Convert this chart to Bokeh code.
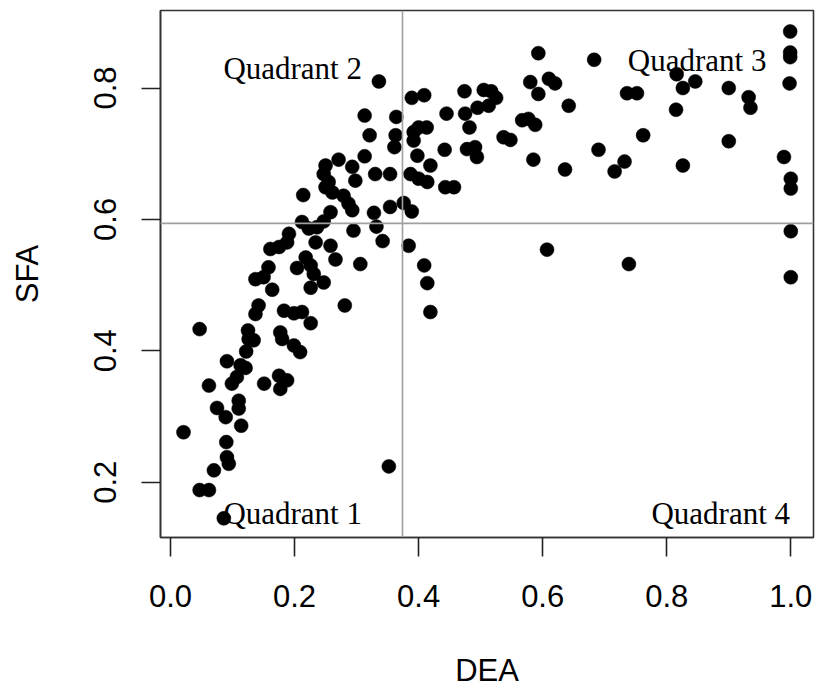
from bokeh.plotting import figure
from bokeh.models import Range1d, FixedTicker, PrintfTickFormatter, Span
from bokeh.core.properties import value
from bokeh.embed import file_html
from bokeh.resources import INLINE

# ---- data ----
dea = [0.137, 0.164, 0.281, 0.047, 0.142, 0.137, 0.183, 0.199, 0.212, 0.226,
       0.125, 0.126, 0.134, 0.177, 0.180, 0.199, 0.209, 0.122, 0.091, 0.113,
       0.121, 0.107, 0.099, 0.062, 0.151, 0.175, 0.188, 0.177, 0.110, 0.110,
       0.075, 0.089, 0.114, 0.021, 0.090, 0.091, 0.094, 0.070, 0.047, 0.062,
       0.086,
       0.336, 0.313, 0.321, 0.313, 0.271, 0.250, 0.247, 0.255, 0.293, 0.298,
       0.250, 0.261, 0.279, 0.287, 0.293, 0.214, 0.258, 0.212, 0.223, 0.236,
       0.247, 0.295, 0.191, 0.188, 0.161, 0.175, 0.234, 0.258, 0.218, 0.226,
       0.266, 0.306, 0.204, 0.158, 0.150, 0.231, 0.247, 0.226,
       0.593, 0.389, 0.409, 0.474, 0.505, 0.517, 0.525, 0.513, 0.495, 0.475,
       0.482, 0.580, 0.593, 0.610, 0.620, 0.642, 0.445, 0.364, 0.567, 0.577,
       0.588, 0.363, 0.361, 0.392, 0.400, 0.413, 0.392, 0.537, 0.548, 0.442,
       0.478, 0.491, 0.494, 0.398, 0.585, 0.636, 0.419, 0.330, 0.354, 0.387,
       0.400, 0.414, 0.443, 0.457, 0.354, 0.376, 0.389, 0.328, 0.332, 0.342,
       0.384, 0.409, 0.414, 0.607, 0.419, 0.352,
       0.683, 0.999, 0.999, 0.999, 0.998, 0.816, 0.826, 0.846, 0.736, 0.752,
       0.900, 0.932, 0.935, 0.815, 0.762, 0.900, 0.690, 0.732, 0.716, 0.826,
       0.989, 1.000, 1.000, 1.000, 0.739, 1.000]
sfa = [0.509, 0.493, 0.469, 0.433, 0.469, 0.456, 0.461, 0.457, 0.459, 0.442,
       0.431, 0.418, 0.416, 0.428, 0.418, 0.408, 0.398, 0.399, 0.384, 0.378,
       0.374, 0.360, 0.350, 0.347, 0.350, 0.362, 0.355, 0.342, 0.324, 0.312,
       0.313, 0.299, 0.286, 0.276, 0.261, 0.238, 0.228, 0.218, 0.188, 0.188,
       0.145,
       0.810, 0.758, 0.728, 0.696, 0.691, 0.682, 0.669, 0.657, 0.680, 0.659,
       0.649, 0.641, 0.636, 0.624, 0.614, 0.637, 0.611, 0.596, 0.586, 0.588,
       0.597, 0.583, 0.578, 0.565, 0.555, 0.558, 0.565, 0.560, 0.542, 0.530,
       0.539, 0.532, 0.526, 0.527, 0.512, 0.517, 0.504, 0.496,
       0.853, 0.785, 0.789, 0.795, 0.797, 0.795, 0.785, 0.773, 0.770, 0.761,
       0.740, 0.809, 0.791, 0.814, 0.807, 0.773, 0.761, 0.756, 0.751, 0.753,
       0.744, 0.728, 0.710, 0.733, 0.740, 0.740, 0.720, 0.725, 0.721, 0.706,
       0.707, 0.710, 0.695, 0.697, 0.691, 0.676, 0.682, 0.669, 0.669, 0.669,
       0.662, 0.657, 0.649, 0.649, 0.619, 0.625, 0.612, 0.610, 0.589, 0.567,
       0.560, 0.530, 0.503, 0.554, 0.459, 0.224,
       0.843, 0.886, 0.854, 0.847, 0.807, 0.821, 0.800, 0.810, 0.792, 0.792,
       0.800, 0.786, 0.770, 0.767, 0.728, 0.719, 0.706, 0.688, 0.673, 0.682,
       0.695, 0.662, 0.647, 0.582, 0.532, 0.512]

dea_cut = 0.374   # vertical reference line
sfa_cut = 0.594   # horizontal reference line

x_ticks = [0.0, 0.2, 0.4, 0.6, 0.8, 1.0]
y_ticks = [0.2, 0.4, 0.6, 0.8]

quad_labels = ["Quadrant 1", "Quadrant 2", "Quadrant 3", "Quadrant 4"]
quad_x = [0.197, 0.197, 0.849, 0.887]
quad_y = [0.152, 0.829, 0.842, 0.152]

# ---- figure ----
p = figure(width=816, height=690, output_backend="svg", toolbar_location=None,
           x_range=Range1d(-0.0161, 1.0366), y_range=Range1d(0.1158, 0.918),
           min_border_left=160, min_border_right=3, min_border_top=10,
           min_border_bottom=153)
p.grid.visible = False
p.outline_line_color = "#333333"
p.outline_line_width = 1.6
p.background_fill_color = "white"
p.border_fill_color = "white"

for ax in (p.xaxis[0], p.yaxis[0]):
    ax.major_tick_out = 19
    ax.major_tick_in = 0
    ax.minor_tick_line_color = None
    ax.major_tick_line_color = "#222222"
    ax.major_tick_line_width = 1.6
    ax.axis_line_color = "#333333"
    ax.axis_line_width = 1.6
    ax.major_label_text_font = "Liberation Sans"
    ax.major_label_text_font_size = "31px"
    ax.major_label_text_color = "black"
    ax.axis_label_text_font = "Liberation Sans"
    ax.axis_label_text_font_size = "31px"
    ax.axis_label_text_font_style = "normal"
    ax.axis_label_text_color = "black"
    ax.formatter = PrintfTickFormatter(format="%.1f")

p.xaxis[0].ticker = FixedTicker(ticks=x_ticks)
p.yaxis[0].ticker = FixedTicker(ticks=y_ticks)
p.xaxis[0].axis_label = "DEA"
p.yaxis[0].axis_label = "SFA"
p.xaxis[0].major_label_standoff = 28
p.yaxis[0].major_label_standoff = 25
p.yaxis[0].major_label_orientation = "vertical"
p.xaxis[0].axis_label_standoff = 43
p.yaxis[0].axis_label_standoff = 47

p.add_layout(Span(location=dea_cut, dimension="height", line_color="#a0a0a0", line_width=1.6))
p.add_layout(Span(location=sfa_cut, dimension="width", line_color="#a0a0a0", line_width=1.6))

p.scatter(dea, sfa, size=14, fill_color="black", line_color="black", line_width=0.5)

p.text(quad_x, quad_y, text=quad_labels, text_font=value("Liberation Serif"),
       text_font_size="31px", text_align="center", text_baseline="alphabetic",
       text_color="black")

open("out.html", "w").write(file_html(p, INLINE))
